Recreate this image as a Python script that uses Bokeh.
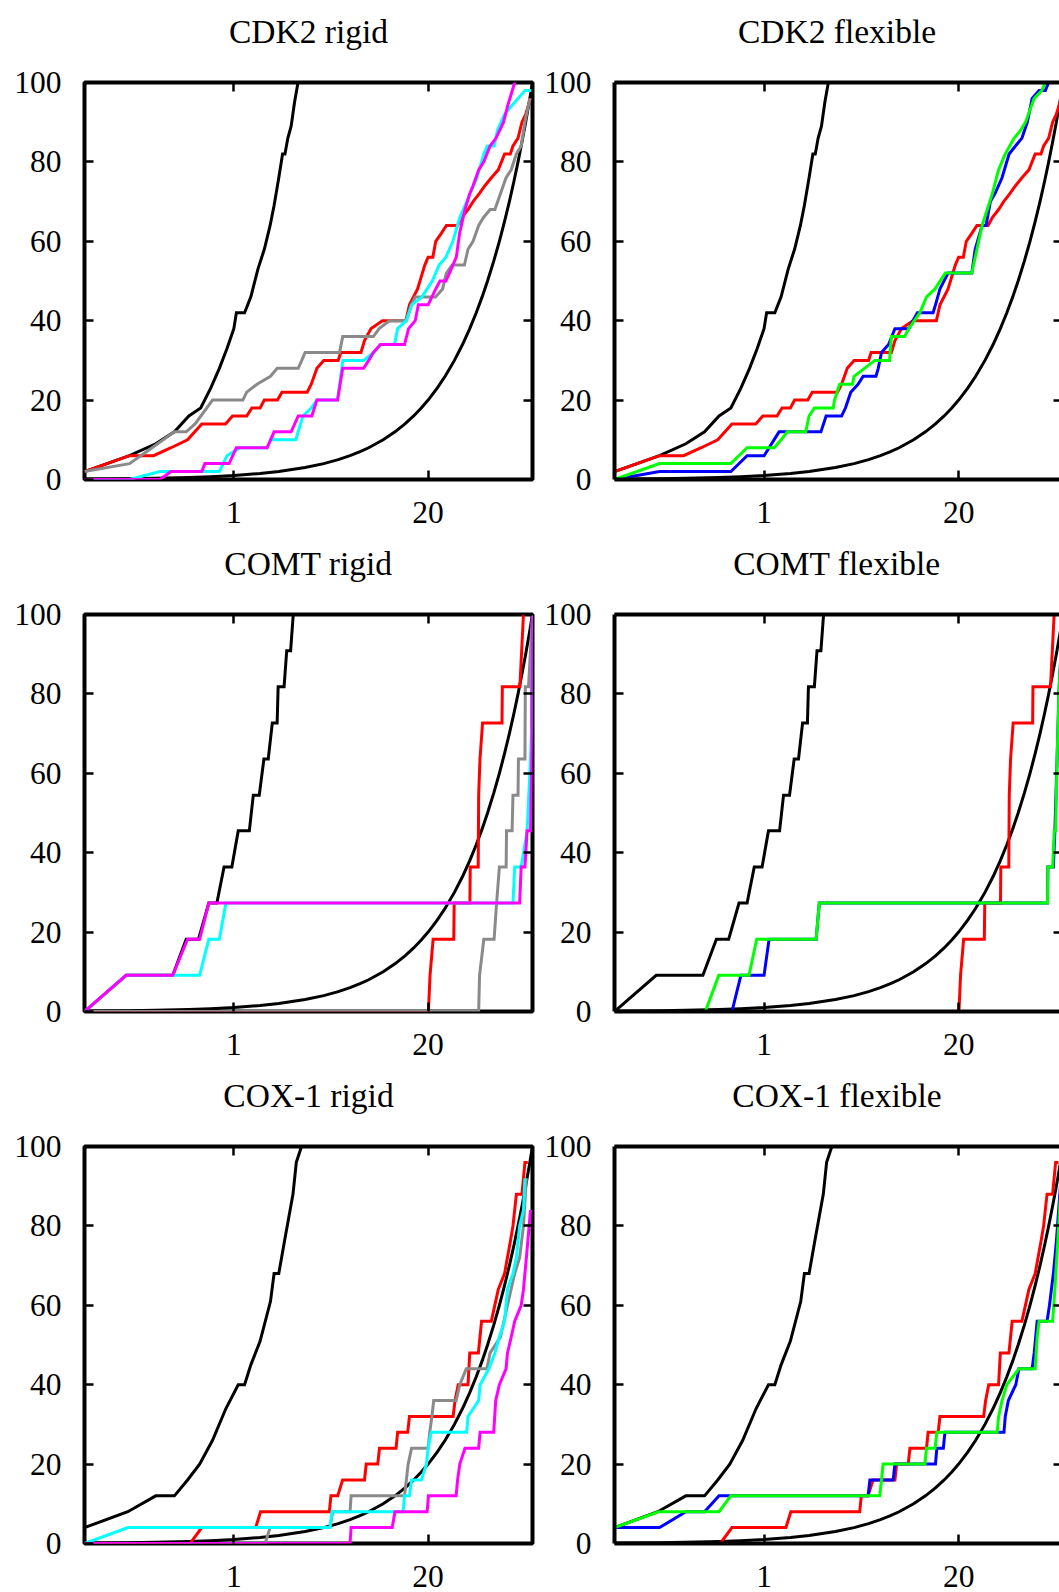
from bokeh.plotting import figure
from bokeh.layouts import row, column
from bokeh.models import FixedTicker, PrintfTickFormatter, LinearAxis, LogAxis, Range1d
from bokeh.embed import file_html
from bokeh.resources import INLINE

# ---------------- data ----------------
X_TICKS = [1, 20]
Y_TICKS = [0, 20, 40, 60, 80, 100]
TITLES = ["CDK2 rigid", "CDK2 flexible", "COMT rigid", "COMT flexible",
          "COX-1 rigid", "COX-1 flexible"]

RANDOM_X = [0.1, 0.2, 0.3, 0.5, 0.7, 1, 1.5, 2, 3, 4, 5, 6, 7, 8, 10, 12, 14, 16, 18, 20,
            23, 26, 30, 34, 38, 42, 46, 50, 55, 60, 65, 70, 75, 80, 85, 90, 95, 100]
RANDOM_Y = [0.1, 0.2, 0.3, 0.5, 0.7, 1, 1.5, 2, 3, 4, 5, 6, 7, 8, 10, 12, 14, 16, 18, 20,
            23, 26, 30, 34, 38, 42, 46, 50, 55, 60, 65, 70, 75, 80, 85, 90, 95, 100]

# CDK2
CDK2_IDEAL_X = [0.1, 0.2, 0.3, 0.4, 0.5, 0.6, 0.7, 0.8, 0.9, 1.0, 1.04, 1.18, 1.3, 1.45, 1.6,
                1.75, 1.86, 2.0, 2.12, 2.2, 2.3, 2.42, 2.55, 2.69]
CDK2_IDEAL_Y = [2, 6, 9, 12, 16, 18, 23, 28, 33, 38, 42, 42, 46, 53, 58, 64, 69, 76, 82, 82,
                86, 89, 95, 100]
CDK2_RED_X = [0.1, 0.2, 0.29, 0.38, 0.49, 0.61, 0.88, 0.98, 1.22, 1.32, 1.5, 1.6, 1.96, 2.1,
              3.1, 3.3, 3.6, 4.0, 5.0, 5.2, 7.1, 7.5, 8.3, 9.9, 14.2, 15.0, 17.0, 19.0, 20.0,
              21.5, 22.5, 24.5, 26.5, 31.5, 33.6, 37.0, 40.0, 44.0, 48.0, 53.0, 59.0, 65.0,
              71.0, 74.0, 80.0, 85.0, 90.0, 97.0]
CDK2_RED_Y = [2, 6, 6, 8, 10, 14, 14, 16, 16, 18, 18, 20, 20, 22, 22, 24, 28, 30, 30, 32, 32,
              35, 38, 40, 40, 44, 48, 54, 56, 56, 60, 62, 64, 64, 66, 68, 70, 72, 74, 76, 78,
              82, 82, 84, 86, 90, 92, 96]
CDK2_GREY_X = [0.1, 0.2, 0.26, 0.4, 0.48, 0.55, 0.72, 1.15, 1.22, 1.43, 1.76, 1.95, 2.7, 2.85,
               3.0, 5.1, 5.36, 8.6, 9.4, 11.0, 14.3, 15.5, 16.4, 22.4, 25.0, 26.5, 29.0, 35.0,
               37.0, 40.0, 43.6, 47.0, 52.0, 56.0, 61.0, 66.5, 72.0, 78.0, 84.0, 89.0, 96.0]
CDK2_GREY_Y = [2, 4, 7, 12, 12, 14, 20, 20, 22, 24, 26, 28, 28, 30, 32, 32, 36, 36, 38, 40,
               40, 44, 46, 46, 48, 52, 54, 54, 58, 60, 64, 66, 68, 68, 72, 76, 78, 82, 84, 90, 96]
CDK2_CYAN_X = [0.1, 0.2, 0.32, 0.8, 0.9, 1.1, 1.67, 1.76, 2.6, 2.9, 3.3, 3.6, 4.95, 5.37, 7.4,
               8.65, 9.6, 11.9, 12.5, 14.3, 15.5, 18.2, 21.3, 23.7, 26.3, 29.3, 32.6, 34.4,
               38.2, 42.5, 47.2, 49.8, 55.3, 58.3, 64.9, 72.0, 80.2, 89.2, 98.0]
CDK2_CYAN_Y = [0, 0, 2, 2, 6, 8, 8, 10, 10, 16, 18, 20, 20, 30, 30, 32, 34, 34, 38, 40, 44,
               46, 50, 54, 56, 60, 66, 68, 72, 76, 82, 84, 84, 88, 92, 94, 96, 98, 98]
CDK2_MAGENTA_X = [0.1, 0.32, 0.38, 0.61, 0.64, 0.93, 1.04, 1.67, 1.86, 2.42, 2.7, 3.33, 3.6,
                  4.95, 5.36, 7.4, 8.0, 8.6, 9.6, 13.9, 14.8, 16.4, 17.2, 20.0, 22.5, 24.0,
                  26.3, 27.8, 30.9, 32.5, 35.3, 38.0, 40.0, 43.6, 47.2, 52.0, 57.0, 64.0, 68.0, 76.0]
CDK2_MAGENTA_Y = [0, 0, 2, 2, 4, 4, 8, 8, 12, 12, 16, 16, 20, 20, 28, 28, 30, 32, 34, 34, 38,
                  40, 44, 44, 48, 50, 50, 52, 56, 62, 68, 72, 74, 78, 80, 84, 86, 90, 94, 100]
CDK2_BLUE_X = [0.1, 0.2, 0.6, 0.77, 1.0, 1.26, 2.4, 2.6, 3.3, 3.5, 3.8, 4.25, 4.6, 5.6, 5.8,
               6.1, 6.8, 7.5, 9.3, 9.9, 10.6, 13.5, 14.0, 15.0, 17.0, 24.5, 25.8, 28.7, 30.5,
               32.6, 35.0, 39.0, 43.5, 48.0, 53.0, 57.6, 62.0, 69.0, 76.0, 80.0]
CDK2_BLUE_Y = [0, 2, 2, 6, 6, 12, 12, 16, 16, 18, 22, 24, 26, 26, 28, 32, 34, 38, 38, 40, 42,
               42, 44, 48, 52, 52, 58, 64, 64, 70, 72, 76, 82, 84, 86, 90, 96, 98, 98, 100]
CDK2_GREEN_X = [0.1, 0.2, 0.6, 0.77, 1.17, 1.3, 1.43, 1.9, 2.0, 2.17, 2.9, 2.96, 3.2, 3.9, 4.0,
                5.5, 6.9, 7.1, 8.7, 9.3, 11.0, 12.2, 13.9, 16.3, 24.5, 28.7, 33.6, 37.0, 41.0,
                47.0, 52.0, 56.0, 64.0, 72.0, 76.0]
CDK2_GREEN_Y = [0, 4, 4, 8, 8, 10, 12, 12, 16, 18, 18, 20, 24, 24, 26, 30, 30, 36, 36, 38, 42,
                46, 48, 52, 52, 64, 72, 78, 82, 86, 88, 90, 96, 98, 100]

# COMT
COMT_IDEAL_X = [0.1, 0.19, 0.39, 0.48, 0.58, 0.68, 0.77, 0.86, 0.97, 1.07, 1.27, 1.35, 1.48,
                1.59, 1.70, 1.81, 1.95, 1.98, 2.17, 2.26, 2.4, 2.5]
COMT_IDEAL_Y = [0, 9.1, 9.1, 18.2, 18.2, 27.3, 27.3, 36.4, 36.4, 45.5, 45.5, 54.5, 54.5, 63.6,
                63.6, 72.7, 72.7, 81.8, 81.8, 90.9, 90.9, 100]
COMT_RED_X = [0.1, 20.1, 20.6, 21.6, 29.7, 29.9, 38.1, 38.3, 43.3, 43.6, 44.5, 46.3, 62.5,
              62.8, 82.3, 87.0]
COMT_RED_Y = [0, 0, 9.1, 18.2, 18.2, 27.3, 27.3, 36.4, 36.4, 54.5, 63.6, 72.7, 72.7, 81.8,
              81.8, 100]
COMT_GREY_X = [0.1, 43.6, 44.2, 47.2, 55.3, 57.5, 60.0, 66.6, 67.0, 73.0, 74.0, 80.0, 80.5,
               89.0, 89.5, 94.0, 100.0]
COMT_GREY_Y = [0, 0, 9.1, 18.2, 18.2, 27.3, 36.4, 36.4, 45.5, 45.5, 54.5, 54.5, 63.6, 63.6,
               81.8, 81.8, 100]
COMT_CYAN_X = [0.1, 0.19, 0.39, 0.59, 0.68, 0.8, 0.885, 74.0, 76.0, 84.0, 92.0, 97.0, 99.0, 100.0]
COMT_CYAN_Y = [0, 9.1, 9.1, 9.1, 18.2, 18.2, 27.3, 27.3, 36.4, 36.4, 45.5, 63.6, 72.7, 100]
COMT_MAGENTA_X = [0.1, 0.19, 0.39, 0.49, 0.59, 0.68, 82.0, 84.0, 89.0, 92.0, 97.0, 99.0, 100.0]
COMT_MAGENTA_Y = [0, 9.1, 9.1, 18.2, 18.2, 27.3, 27.3, 36.4, 36.4, 45.5, 45.5, 63.6, 100]
COMT_GREEN_X = [0.1, 0.405, 0.498, 0.793, 0.893, 2.23, 2.34, 78.6, 79.0, 85.0, 87.2, 89.0,
                91.0, 94.0, 100.0]
COMT_GREEN_Y = [0, 0, 9.1, 9.1, 18.2, 18.2, 27.3, 27.3, 36.4, 36.4, 45.5, 45.5, 63.6, 81.8, 100]
COMT_BLUE_X = [0.1, 0.61, 0.70, 1.0, 1.08, 2.23, 2.34, 78.6, 79.0, 86.0, 88.0, 91.0, 94.0, 100.0]
COMT_BLUE_Y = [0, 0, 9.1, 9.1, 18.2, 18.2, 27.3, 27.3, 36.4, 36.4, 45.5, 63.6, 81.8, 100]

# COX-1
COX_IDEAL_X = [0.1, 0.195, 0.3, 0.4, 0.49, 0.59, 0.72, 0.885, 1.07, 1.18, 1.3, 1.5, 1.76,
               1.86, 2.0, 2.18, 2.49, 2.62, 2.84]
COX_IDEAL_Y = [4, 8, 12, 12, 16, 20, 26, 34, 40, 40, 45, 51, 61, 68, 68, 76, 88, 96, 100]
COX_RED_X = [0.1, 0.51, 0.61, 1.4, 1.51, 4.36, 4.47, 4.96, 5.35, 7.5, 7.7, 9.2, 9.45, 12.2,
             12.5, 14.6, 15.0, 29.4, 30.3, 31.8, 37.0, 38.0, 43.4, 45.6, 53.0, 59.0, 65.0,
             71.0, 74.0, 78.0, 85.0, 89.0, 93.0]
COX_RED_Y = [0, 0, 4, 4, 8, 8, 12, 12, 16, 16, 20, 20, 24, 24, 28, 28, 32, 32, 36, 40, 40,
             48, 48, 56, 56, 64, 68, 76, 80, 88, 88, 96, 96]
COX_GREY_X = [0.1, 1.62, 1.75, 4.4, 4.6, 6.0, 6.1, 13.9, 14.3, 14.7, 15.5, 20.0, 20.5, 21.2,
              21.8, 30.8, 32.6, 36.0, 49.5, 52.0, 61.0, 68.0, 76.0, 82.0, 87.0, 91.0]
COX_GREY_Y = [0, 0, 4, 4, 8, 8, 12, 12, 16, 20, 24, 24, 28, 32, 36, 36, 40, 44, 44, 48, 52,
              60, 68, 72, 80, 92]
COX_CYAN_X = [0.1, 0.196, 4.4, 4.55, 13.6, 13.9, 15.0, 15.5, 18.0, 19.5, 20.0, 21.0, 36.2,
              37.0, 43.6, 44.6, 51.0, 56.0, 60.0, 65.0, 68.0, 74.0, 78.0, 82.0, 87.0, 89.0]
COX_CYAN_Y = [0, 4, 4, 8, 8, 12, 12, 16, 16, 20, 24, 28, 28, 32, 36, 40, 44, 48, 52, 56, 64,
              68, 72, 80, 84, 92]
COX_MAGENTA_X = [0.1, 6.0, 6.1, 11.5, 12.0, 19.7, 20.1, 30.8, 31.5, 32.6, 35.3, 43.6, 44.6,
                 55.0, 56.7, 60.0, 66.5, 68.0, 72.0, 76.0, 84.0, 87.0, 91.0, 97.0]
COX_MAGENTA_Y = [0, 0, 4, 4, 8, 8, 12, 12, 16, 20, 24, 24, 28, 28, 36, 40, 44, 48, 52, 56,
                 60, 64, 72, 84]
COX_GREEN_X = [0.1, 0.197, 0.5, 0.6, 5.94, 6.1, 6.25, 11.9, 12.2, 13.9, 14.3, 36.2, 37.0, 39.0,
               42.0, 50.6, 65.0, 67.0, 69.0, 85.0, 88.0, 92.0, 96.0, 100.0]
COX_GREEN_Y = [4, 8, 8, 12, 12, 16, 20, 20, 24, 24, 28, 28, 32, 36, 40, 44, 44, 52, 56, 56,
               64, 76, 88, 100]
COX_BLUE_X = [0.1, 0.2, 0.3, 0.4, 0.5, 4.96, 5.1, 7.3, 7.5, 14.0, 14.3, 15.8, 16.2, 40.2,
              41.0, 43.0, 48.2, 50.6, 62.0, 64.0, 67.0, 78.0, 81.0, 86.0, 90.0, 95.0, 100.0]
COX_BLUE_Y = [4, 4, 8, 8, 12, 12, 16, 16, 20, 20, 24, 24, 28, 28, 32, 36, 40, 44, 44, 48,
              56, 56, 60, 68, 76, 88, 100]

# ---------------- style ----------------
FONT = "Liberation Serif"
BLACK, RED, GREY, CYAN, MAGENTA = "#000000", "#ff0000", "#8a8a8a", "#00ffff", "#ff00ff"
BLUE, GREEN = "#0000ff", "#00ff00"
CURVE_W = 3
BORDER_W = 4
RIGHT_X_END = 94.5   # the right-hand panels are cut by the picture's edge

PANELS = [
    (TITLES[0], [(CDK2_IDEAL_X, CDK2_IDEAL_Y, BLACK), (RANDOM_X, RANDOM_Y, BLACK),
                 (CDK2_RED_X, CDK2_RED_Y, RED), (CDK2_GREY_X, CDK2_GREY_Y, GREY),
                 (CDK2_CYAN_X, CDK2_CYAN_Y, CYAN), (CDK2_MAGENTA_X, CDK2_MAGENTA_Y, MAGENTA)]),
    (TITLES[1], [(CDK2_IDEAL_X, CDK2_IDEAL_Y, BLACK), (RANDOM_X, RANDOM_Y, BLACK),
                 (CDK2_RED_X, CDK2_RED_Y, RED), (CDK2_BLUE_X, CDK2_BLUE_Y, BLUE),
                 (CDK2_GREEN_X, CDK2_GREEN_Y, GREEN)]),
    (TITLES[2], [(COMT_IDEAL_X, COMT_IDEAL_Y, BLACK), (RANDOM_X, RANDOM_Y, BLACK),
                 (COMT_RED_X, COMT_RED_Y, RED), (COMT_GREY_X, COMT_GREY_Y, GREY),
                 (COMT_CYAN_X, COMT_CYAN_Y, CYAN), (COMT_MAGENTA_X, COMT_MAGENTA_Y, MAGENTA)]),
    (TITLES[3], [(COMT_IDEAL_X, COMT_IDEAL_Y, BLACK), (RANDOM_X, RANDOM_Y, BLACK),
                 (COMT_RED_X, COMT_RED_Y, RED), (COMT_BLUE_X, COMT_BLUE_Y, BLUE),
                 (COMT_GREEN_X, COMT_GREEN_Y, GREEN)]),
    (TITLES[4], [(COX_IDEAL_X, COX_IDEAL_Y, BLACK), (RANDOM_X, RANDOM_Y, BLACK),
                 (COX_RED_X, COX_RED_Y, RED), (COX_GREY_X, COX_GREY_Y, GREY),
                 (COX_CYAN_X, COX_CYAN_Y, CYAN), (COX_MAGENTA_X, COX_MAGENTA_Y, MAGENTA)]),
    (TITLES[5], [(COX_IDEAL_X, COX_IDEAL_Y, BLACK), (RANDOM_X, RANDOM_Y, BLACK),
                 (COX_RED_X, COX_RED_Y, RED), (COX_BLUE_X, COX_BLUE_Y, BLUE),
                 (COX_GREEN_X, COX_GREEN_Y, GREEN)]),
]


def style_axis(ax, labels, line, tick_in=9):
    ax.major_tick_in = tick_in
    ax.major_tick_out = 0
    ax.major_tick_line_width = 2.5
    ax.major_tick_line_color = BLACK
    ax.minor_tick_line_color = None
    ax.axis_line_color = BLACK if line else None
    ax.axis_line_width = BORDER_W
    ax.axis_label = None
    if labels:
        ax.major_label_text_font = FONT
        ax.major_label_text_font_size = "31.5px"
        ax.major_label_text_color = BLACK
        ax.major_label_text_font_style = "normal"
    else:
        ax.major_label_text_color = None
        ax.major_label_text_font_size = "1px"
        ax.major_label_standoff = 0


def make_panel(title, curves, is_left, is_top):
    p = figure(width=540 if is_left else 519, height=540 if is_top else 532,
               x_axis_type="log",
               x_range=Range1d(0.1, 100 if is_left else RIGHT_X_END),
               y_range=Range1d(0, 100),
               min_border_left=84 if is_left else 74,
               min_border_right=8 if is_left else 0,
               min_border_top=82 if is_top else 74, min_border_bottom=61,
               output_backend="svg", toolbar_location=None)
    p.background_fill_color = "white"
    p.border_fill_color = "white"
    p.grid.visible = False
    if is_left:
        p.outline_line_color = BLACK
        p.outline_line_width = BORDER_W
    else:
        p.outline_line_color = None

    xa = p.xaxis[0]
    xa.ticker = FixedTicker(ticks=X_TICKS)
    xa.formatter = PrintfTickFormatter(format="%g")
    style_axis(xa, True, not is_left)
    xa.major_label_standoff = 22

    ya = p.yaxis[0]
    ya.ticker = FixedTicker(ticks=Y_TICKS)
    style_axis(ya, True, not is_left)
    ya.major_label_standoff = 23

    # top border with mirrored ticks; its axis label carries the panel title
    top = LogAxis(ticker=FixedTicker(ticks=X_TICKS))
    style_axis(top, False, not is_left)
    top.axis_label = title
    top.axis_label_text_font = FONT
    top.axis_label_text_font_size = "33.5px"
    top.axis_label_text_font_style = "normal"
    top.axis_label_text_color = BLACK
    top.axis_label_standoff = 33
    p.add_layout(top, "above")

    right = LinearAxis(ticker=FixedTicker(ticks=Y_TICKS))
    style_axis(right, False, False, tick_in=9 if is_left else 6)
    p.add_layout(right, "right")

    for xs, ys, color in curves:
        p.line(xs, ys, line_color=color, line_width=CURVE_W, line_join="miter")
    return p


figs = [make_panel(t, c, i % 2 == 0, i < 2) for i, (t, c) in enumerate(PANELS)]
layout = column(row(figs[0], figs[1]), row(figs[2], figs[3]), row(figs[4], figs[5]),
                width=1059, height=1592, sizing_mode="fixed",
                styles={"overflow": "hidden"})

open("out.html", "w").write(file_html(layout, INLINE))
